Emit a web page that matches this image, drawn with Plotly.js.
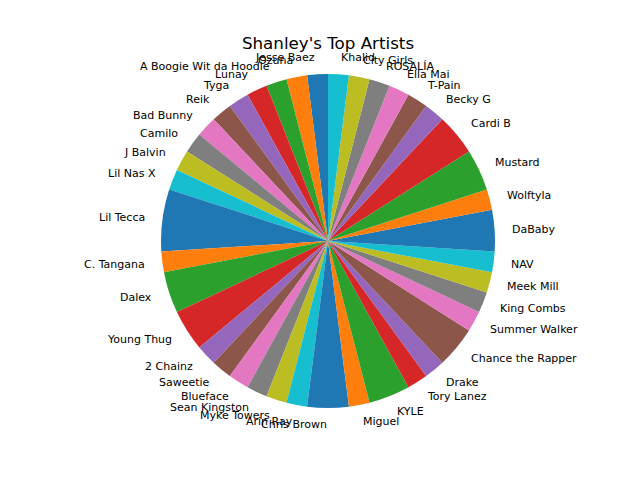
<!DOCTYPE html>
<html>
<head>
<meta charset="utf-8">
<script src="https://cdn.plot.ly/plotly-3.0.1.min.js"></script>
<style>html,body{margin:0;padding:0;background:#fff;}#chart{width:640px;height:478px;}</style>
</head>
<body>
<div id="chart"></div>
<script>
const artists = ["Jesse Baez","Ozuna","A Boogie Wit da Hoodie","Lunay","Tyga","Reik","Bad Bunny","Camilo","J Balvin","Lil Nas X",
  "Lil Tecca","C. Tangana","Dalex","Young Thug","2 Chainz","Saweetie","Blueface","Sean Kingston","Myke Towers","Arin Ray",
  "Chris Brown","Miguel","KYLE","Tory Lanez","Drake","Chance the Rapper","Summer Walker","King Combs","Meek Mill","NAV",
  "DaBaby","Wolftyla","Mustard","Cardi B","Becky G","T-Pain","Ella Mai","ROSALÍA","City Girls","Khalid"];
const counts = [1,1,1,1,1,1,1,1,1,1,
  3,1,2,2,1,1,1,1,1,1,
  2,1,2,1,1,2,1,1,1,1,
  2,1,2,2,1,1,1,1,1,1];
const palette = ["#1f77b4","#ff7f0e","#2ca02c","#d62728","#9467bd","#8c564b","#e377c2","#7f7f7f","#bcbd22","#17becf"];

const W = 640, H = 478;
const dom = {x:[161/W, 495/W], y:[70/H, 404/H]};
const cx = (dom.x[0]+dom.x[1])/2*W;
const r = (dom.x[1]-dom.x[0])*W/2;
const cy = H*(1-dom.y[0]) - r;

const total = counts.reduce((a,b)=>a+b,0);
let cum = 0;
const annotations = [];
artists.forEach((name,i)=>{
  const mid = (90 + 360*(cum + counts[i]/2)/total) * Math.PI/180;
  cum += counts[i];
  const px = cx + 1.1*r*Math.cos(mid);
  const py = cy - 1.1*r*Math.sin(mid);
  annotations.push({
    text: name, showarrow:false, xref:'paper', yref:'paper',
    x: px/W, y: 1 - py/H,
    xanchor: Math.cos(mid) > 0 ? 'left' : 'right', yanchor:'middle',
    borderpad:0,
    font:{family:'DejaVu Sans', size:11, color:'#000'}
  });
});

const colors = artists.map((_,i)=>palette[i%10]);

Plotly.newPlot('chart', [{
  type:'pie', labels:artists, values:counts, sort:false, direction:'counterclockwise',
  rotation: -360*counts[0]/total,
  marker:{colors:colors, line:{width:0}}, textinfo:'none', hoverinfo:'label+value',
  domain:dom
}], {
  width:W, height:H, margin:{l:0,r:0,t:0,b:0}, showlegend:false,
  paper_bgcolor:'#fff',
  title:{text:"Shanley's Top Artists", x:0.5125, xanchor:'center', y:1-43/H, yanchor:'middle', yref:'paper',
    font:{family:'DejaVu Sans', size:16.7, color:'#000'}},
  annotations:annotations
}, {displayModeBar:false, staticPlot:true});
</script>
</body>
</html>
